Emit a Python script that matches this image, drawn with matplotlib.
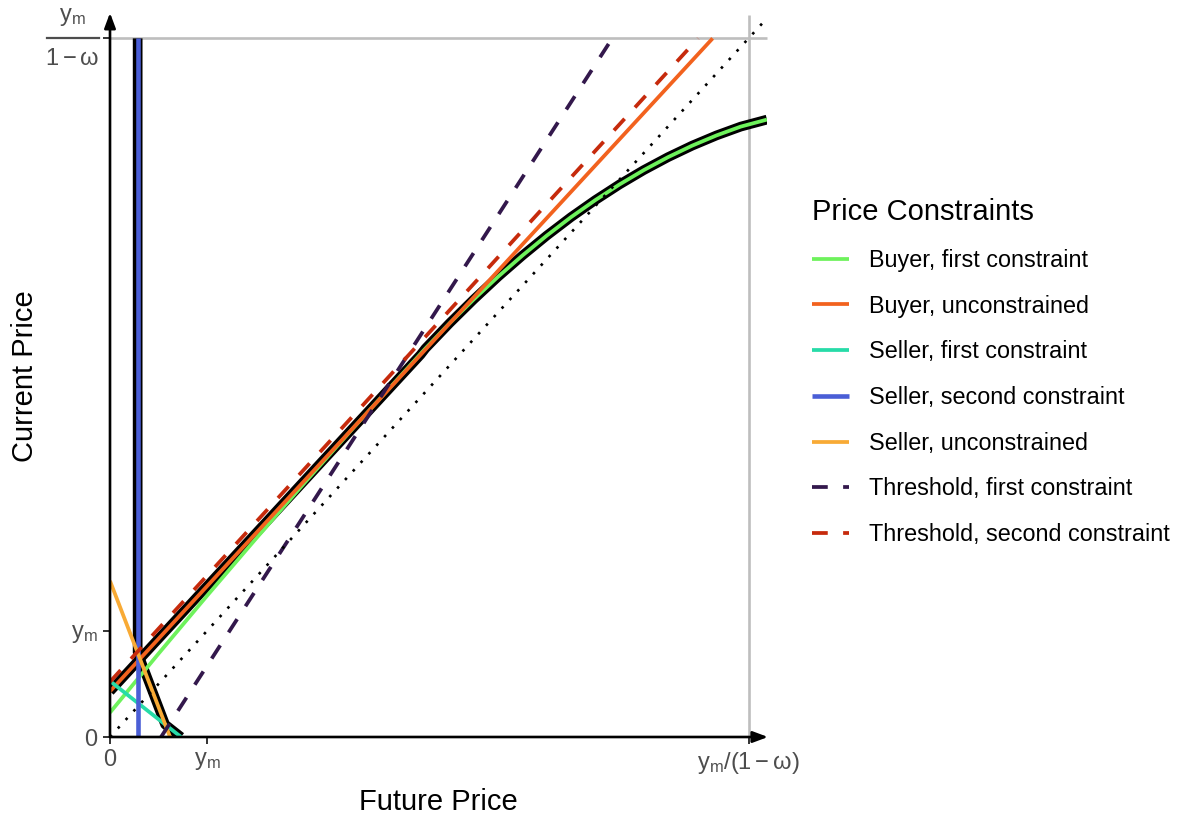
import matplotlib
matplotlib.use("Agg")
import matplotlib.pyplot as plt
from matplotlib.lines import Line2D

plt.rcParams['font.family'] = ['Liberation Sans', 'DejaVu Sans']
plt.rcParams['mathtext.fontset'] = 'custom'
plt.rcParams['mathtext.rm'] = 'Liberation Sans'
plt.rcParams['mathtext.it'] = 'Liberation Sans'
plt.rcParams['mathtext.bf'] = 'Liberation Sans:bold'

# ---------------- data (in units of y_m) ----------------
ym = 1.0
ym_over = 6.58            # y_m / (1 - omega)
x_max = 6.77
y_max = 6.80

# Buyer, unconstrained (line)
buyer_unc_x = [0.0, 6.21]
buyer_unc_y = [0.43, 6.58]

# Buyer, first constraint (curve)
buyer_first_x = [0.0, 0.5, 1.0, 1.5, 2.0, 2.5, 3.0, 3.25, 3.5, 3.75, 4.0, 4.25, 4.5, 4.75,
                 5.0, 5.25, 5.5, 5.75, 6.0, 6.25, 6.5, 6.77]
buyer_first_y = [0.23, 0.785, 1.33, 1.864, 2.389, 2.903, 3.407, 3.659, 3.898, 4.123, 4.336,
                 4.535, 4.722, 4.896, 5.056, 5.204, 5.339, 5.461, 5.570, 5.666, 5.749, 5.815]

# Equilibrium buyer path (black)
buyer_path_x = [0.0, 3.2, 3.25, 3.5, 3.75, 4.0, 4.25, 4.5, 4.75, 5.0, 5.25, 5.5, 5.75,
                6.0, 6.25, 6.5, 6.77]
buyer_path_y = [0.43, 3.60, 3.659, 3.898, 4.123, 4.336, 4.535, 4.722, 4.896, 5.056, 5.204,
                5.339, 5.461, 5.570, 5.666, 5.749, 5.815]

# Seller, first constraint
seller_first_x = [0.0, 0.732]
seller_first_y = [0.527, 0.0]

# Seller, second constraint (vertical)
seller_second_x = [0.285, 0.285]
seller_second_y = [0.0, 6.58]

# Seller, unconstrained
seller_unc_x = [0.0, 0.619]
seller_unc_y = [1.47, 0.0]

# Equilibrium seller path (black)
seller_path_x = [0.285, 0.285, 0.568, 0.732]
seller_path_y = [6.58, 0.795, 0.118, 0.0]

# Thresholds
thr_first_x = [0.526, 5.175]
thr_first_y = [0.0, 6.58]
thr_second_x = [0.0, 6.06]
thr_second_y = [0.52, 6.58]

# 45-degree line
diag_x = [0.0, 6.77]
diag_y = [0.0, 6.77]

labels = ["Buyer, first constraint", "Buyer, unconstrained", "Seller, first constraint",
          "Seller, second constraint", "Seller, unconstrained",
          "Threshold, first constraint", "Threshold, second constraint"]
colors = ["#6EF25C", "#F2621E", "#27DBA8", "#4A5ED6", "#F8AA35", "#33184C", "#C62A0C"]

# ---------------- figure ----------------
W, H = 1180, 814
fig = plt.figure(figsize=(W / 100, H / 100), dpi=100)
ax = fig.add_axes([110 / W, (H - 737) / H, (767 - 110) / W, (737 - 15) / H])
ax.set_xlim(0, x_max)
ax.set_ylim(0, y_max)
for s in ax.spines.values():
    s.set_visible(False)

LW = 2.7
BLW = 7.0
common = dict(solid_capstyle='butt', solid_joinstyle='round', dash_capstyle='butt')

# gray reference lines
ax.plot([0, x_max], [ym_over, ym_over], color="#BEBEBE", lw=1.9, clip_on=False, zorder=1, **common)
ax.plot([ym_over, ym_over], [0, y_max], color="#BEBEBE", lw=1.9, clip_on=False, zorder=1, **common)

# black equilibrium paths
ax.plot(buyer_path_x, buyer_path_y, color="black", lw=BLW, zorder=2, **common)
ax.plot(seller_path_x, seller_path_y, color="black", lw=BLW, zorder=2, **common)

handles = []
h = ax.plot(buyer_first_x, buyer_first_y, color=colors[0], lw=LW, zorder=3, **common)[0]; handles.append(h)
h = ax.plot(buyer_unc_x, buyer_unc_y, color=colors[1], lw=LW, zorder=3, **common)[0]; handles.append(h)
h = ax.plot(seller_first_x, seller_first_y, color=colors[2], lw=LW, zorder=3, **common)[0]; handles.append(h)
h = ax.plot(seller_second_x, seller_second_y, color=colors[3], lw=LW + 0.6, zorder=3, **common)[0]; handles.append(h)
h = ax.plot(seller_unc_x, seller_unc_y, color=colors[4], lw=LW, zorder=3, **common)[0]; handles.append(h)
h = ax.plot(thr_first_x, thr_first_y, color=colors[5], lw=LW, ls=(0, (4.2, 4.1)), zorder=4, **common)[0]; handles.append(h)
h = ax.plot(thr_second_x, thr_second_y, color=colors[6], lw=LW, ls=(0, (4.2, 4.1)), zorder=4, **common)[0]; handles.append(h)

ax.plot(diag_x, diag_y, color="black", lw=1.9, ls=(0, (1, 3.4)), clip_on=False, zorder=5)

# axis arrows
arrow = dict(arrowstyle='-|>,head_length=0.75,head_width=0.28', lw=1.9, color='black',
             shrinkA=0, shrinkB=0, mutation_scale=12)
ax.annotate('', xy=(x_max + 0.01, 0), xytext=(0, 0), arrowprops=arrow, annotation_clip=False, zorder=6)
ax.annotate('', xy=(0, y_max + 0.02), xytext=(0, 0), arrowprops=arrow, annotation_clip=False, zorder=6)

# ticks
TFS = 17
ax.set_xticks([0, ym, ym_over])
ax.set_xticklabels(['0', r'$\mathrm{y_m}$', r'$\mathrm{y_m/(1-\omega)}$'])
ax.set_yticks([0, ym, ym_over])
ax.set_yticklabels(['0', r'$\mathrm{y_m}$', ''])
ax.tick_params(length=5, width=1.4, color='#333333', labelsize=TFS, labelcolor='#4D4D4D', pad=4)

# stacked fraction label at top of y axis
fig.text(72 / W, 1 - 17 / H, r'$\mathrm{y_m}$', ha='center', va='center', fontsize=TFS, color='#4D4D4D')
fig.add_artist(Line2D([47 / W, 99 / W], [1 - 38 / H, 1 - 38 / H], color='#4D4D4D', lw=1.6))
fig.text(72 / W, 1 - 59 / H, r'$\mathrm{1-\omega}$', ha='center', va='center', fontsize=TFS, color='#4D4D4D')

# axis titles
ax.set_xlabel('Future Price', fontsize=21, va='center')
ax.xaxis.set_label_coords(0.5, (737 - 802) / 722)
ax.set_ylabel('Current Price', fontsize=21, va='center')
ax.yaxis.set_label_coords((25 - 110) / 657, 0.5)

# legend
leg = fig.legend(handles, labels, loc='upper left', bbox_to_anchor=(812 / W, 1 - 198 / H),
                 frameon=False, fontsize=16.8, title='Price Constraints', title_fontsize=21,
                 handlelength=1.59, handletextpad=0.86, labelspacing=0.975, borderpad=0,
                 borderaxespad=0, alignment='left')

fig.savefig('out.png', dpi=100)
